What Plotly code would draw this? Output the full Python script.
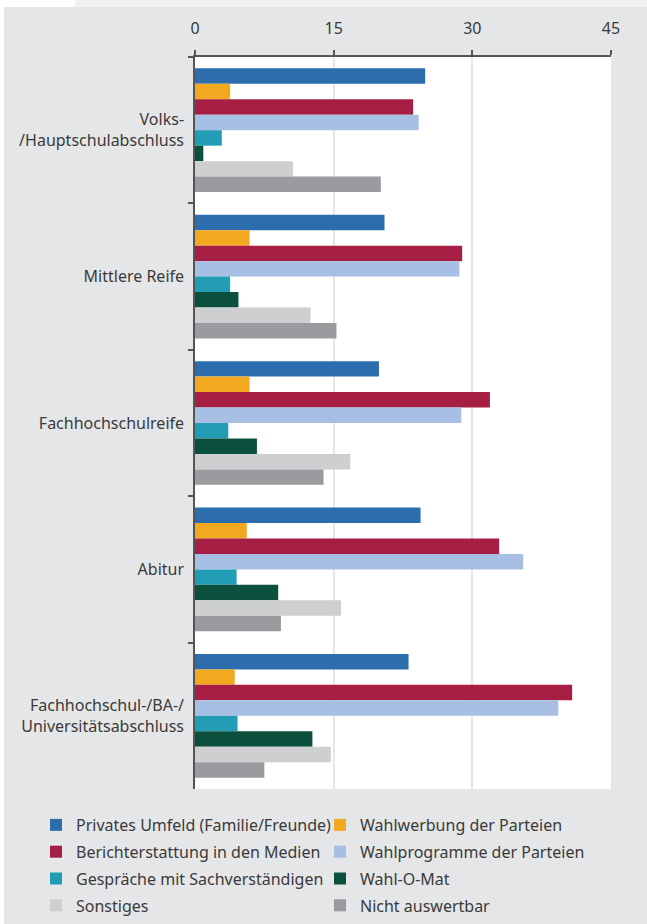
import plotly.graph_objects as go

# ---- data ----
categories = [
    "Volks-<br>/Hauptschulabschluss",
    "Mittlere Reife",
    "Fachhochschulreife",
    "Abitur",
    "Fachhochschul-/BA-/<br>Universitätsabschluss",
]

privates_umfeld = [24.9, 20.5, 19.9, 24.4, 23.1]
wahlwerbung = [3.8, 5.9, 5.9, 5.6, 4.3]
berichterstattung = [23.6, 28.9, 31.9, 32.9, 40.8]
wahlprogramme = [24.2, 28.6, 28.8, 35.5, 39.3]
gespraeche = [2.9, 3.8, 3.6, 4.5, 4.6]
wahl_o_mat = [0.9, 4.7, 6.7, 9.0, 12.7]
sonstiges = [10.6, 12.5, 16.8, 15.8, 14.7]
nicht_auswertbar = [20.1, 15.3, 13.9, 9.3, 7.5]

series_names = [
    "Privates Umfeld (Familie/Freunde)",
    "Wahlwerbung der Parteien",
    "Berichterstattung in den Medien",
    "Wahlprogramme der Parteien",
    "Gespräche mit Sachverständigen",
    "Wahl-O-Mat",
    "Sonstiges",
    "Nicht auswertbar",
]
series_values = [
    privates_umfeld, wahlwerbung, berichterstattung, wahlprogramme,
    gespraeche, wahl_o_mat, sonstiges, nicht_auswertbar,
]
series_colors = [
    "#2c6ead", "#f2a920", "#a61e44", "#a7bfe3",
    "#239db5", "#0b503d", "#cecfd1", "#9a9b9f",
]

x_ticks = [0, 15, 30, 45]

# ---- figure ----
W, H = 647, 924
ML, MR, MT, MB = 195, 36, 57, 135
PW, PH = W - ML - MR, H - MT - MB

FONT = "Noto Sans, Liberation Sans, Arial, sans-serif"
TXT = "#3a3a3a"
AX = "#555555"

fig = go.Figure()
for i, (name, vals, col) in enumerate(zip(series_names, series_values, series_colors)):
    fig.add_trace(go.Bar(
        y=categories, x=vals, name=name, orientation="h",
        marker=dict(color=col, line=dict(width=0)),
        legend="legend" if i % 2 == 0 else "legend2",
        legendgroup=f"g{i}",
        hoverinfo="x+name",
    ))


def px_x(p):
    return (p - ML) / PW


def px_y(p):
    return (H - MB - p) / PH


shapes = [
    dict(type="rect", xref="paper", yref="paper", x0=px_x(0), x1=px_x(75),
         y0=px_y(7), y1=px_y(0), fillcolor="#ffffff", line=dict(width=0), layer="above"),
    dict(type="rect", xref="paper", yref="paper", x0=px_x(75), x1=px_x(W),
         y0=px_y(7), y1=px_y(0), fillcolor="#eff0f2", line=dict(width=0), layer="above"),
    dict(type="rect", xref="paper", yref="paper", x0=px_x(0), x1=px_x(4),
         y0=px_y(H), y1=px_y(0), fillcolor="#ffffff", line=dict(width=0), layer="above"),
]

legend_common = dict(
    orientation="v",
    xref="paper", yref="paper",
    xanchor="left", yanchor="top",
    font=dict(family=FONT, size=16, color=TXT),
    bgcolor="rgba(0,0,0,0)",
    borderwidth=0,
    tracegroupgap=3,
    itemclick=False, itemdoubleclick=False,
)

fig.update_layout(
    width=W, height=H,
    autosize=False,
    margin=dict(l=ML, r=MR, t=MT, b=MB, pad=0, autoexpand=False),
    paper_bgcolor="#e5e6e8",
    plot_bgcolor="#ffffff",
    barmode="group",
    bargap=0.155,
    bargroupgap=0,
    font=dict(family=FONT, size=16, color=TXT),
    showlegend=True,
    legend=dict(x=px_x(36), y=px_y(808), **legend_common),
    legend2=dict(x=px_x(320), y=px_y(808), **legend_common),
    xaxis=dict(
        side="top",
        range=[0, 45],
        tickvals=x_ticks,
        ticktext=[str(v) for v in x_ticks],
        showgrid=True, gridcolor="#e6e6e6", gridwidth=1.5,
        zeroline=False,
        showline=True, linecolor=AX, linewidth=1.5,
        ticks="outside", ticklen=5, tickcolor=AX, tickwidth=1.5,
        ticklabelstandoff=10,
        tickfont=dict(family=FONT, size=16, color=TXT),
        automargin=False,
        fixedrange=True,
    ),
    yaxis=dict(
        type="category",
        autorange="reversed",
        showgrid=False, zeroline=False,
        showline=True, linecolor=AX, linewidth=1.5,
        ticks="outside", ticklen=5, tickcolor=AX, tickwidth=1.5,
        tickson="boundaries",
        ticklabelstandoff=6,
        tickfont=dict(family=FONT, size=16, color=TXT),
        automargin=False,
        fixedrange=True,
    ),
    shapes=shapes,
)

fig.write_html(
    "out.html",
    config={"displayModeBar": False},
    post_script="document.body.style.margin='0';document.body.style.overflow='hidden';",
)
